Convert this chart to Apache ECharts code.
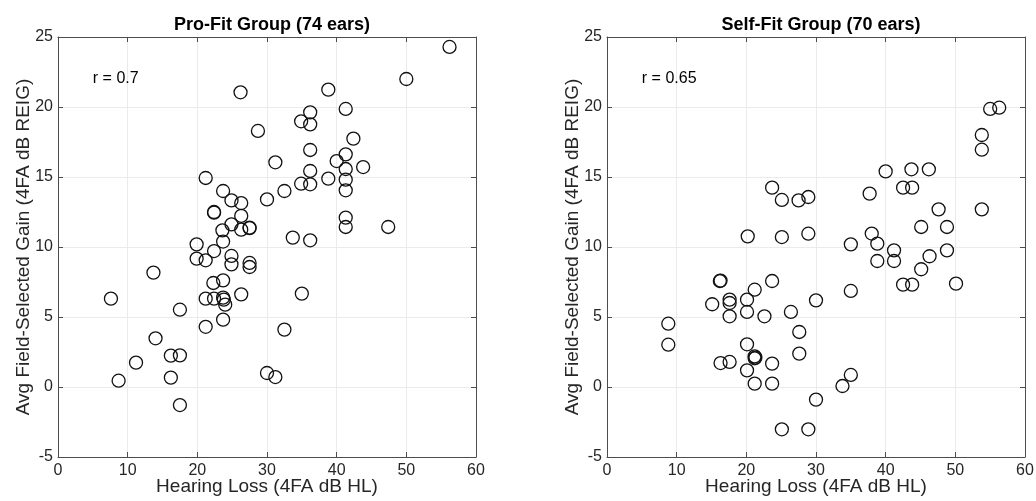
<!DOCTYPE html>
<html>
<head>
<meta charset="utf-8">
<script src="https://cdn.jsdelivr.net/npm/echarts@6/dist/echarts.min.js"></script>
<style>
html,body{margin:0;padding:0;background:#fff;}
#c{width:1036px;height:501px;}
</style>
</head>
<body>
<div id="c"></div>
<script>
// Pro-Fit group: hearing loss (x) vs avg field-selected gain (y)
const proFitX = [56.2, 50.0, 26.2, 38.8, 41.3, 36.2, 34.9, 36.2, 28.7, 42.4,
  36.2, 41.3, 40.0, 31.2, 43.8, 41.3, 36.2, 21.2, 38.8, 41.3,
  34.9, 36.2, 41.3, 32.5, 23.7, 30.0, 24.9, 26.3, 22.4, 22.4,
  26.3, 41.3, 47.4, 41.3, 24.9, 23.6, 27.5, 27.5, 26.3, 33.7,
  36.2, 19.9, 23.7, 22.4, 19.9, 21.2, 24.9, 24.9, 27.5, 27.5,
  13.7, 7.6, 23.7, 22.3, 26.3, 35.0, 21.2, 22.4, 23.7, 23.8,
  24.0, 17.5, 23.7, 21.2, 32.5, 14.0, 11.2, 16.2, 17.5, 8.7,
  16.2, 30.0, 31.2, 17.5];
const proFitY = [24.29, 22.0, 21.05, 21.24, 19.86, 19.62, 18.98, 18.76, 18.29, 17.74,
  16.93, 16.62, 16.14, 16.05, 15.71, 15.57, 15.43, 14.93, 14.88, 14.81,
  14.52, 14.48, 14.05, 14.0, 14.0, 13.4, 13.33, 13.14, 12.5, 12.45,
  12.22, 12.1, 11.43, 11.43, 11.62, 11.19, 11.39, 11.35, 11.24, 10.67,
  10.48, 10.19, 10.39, 9.71, 9.17, 9.05, 9.36, 8.76, 8.86, 8.57,
  8.17, 6.31, 7.62, 7.43, 6.62, 6.67, 6.31, 6.31, 6.38, 6.24,
  5.88, 5.52, 4.81, 4.3, 4.1, 3.48, 1.74, 2.24, 2.26, 0.45,
  0.67, 1.0, 0.71, -1.29];

// Self-Fit group
const selfFitX = [55.0, 56.3, 53.8, 53.8, 40.0, 43.7, 46.2, 23.7, 42.5, 43.8,
  37.7, 25.1, 27.5, 28.9, 47.6, 53.8, 45.1, 48.8, 20.2, 25.1,
  28.9, 38.0, 35.0, 38.8, 41.2, 48.8, 46.3, 38.8, 41.2, 45.1,
  42.5, 43.8, 50.1, 35.0, 16.2, 16.3, 23.7, 21.2, 15.1, 17.6,
  17.6, 17.6, 20.1, 20.1, 22.6, 26.4, 30.0, 27.6, 8.8, 8.8,
  20.1, 27.6, 21.2, 21.2, 21.3, 16.3, 17.6, 23.7, 20.1, 21.2,
  23.7, 33.8, 35.0, 30.0, 25.1, 28.9];
const selfFitY = [19.86, 19.95, 18.0, 16.95, 15.4, 15.55, 15.55, 14.24, 14.24, 14.24,
  13.81, 13.36, 13.33, 13.57, 12.69, 12.69, 11.43, 11.43, 10.76, 10.71,
  10.95, 10.96, 10.19, 10.24, 9.76, 9.76, 9.34, 9.0, 9.0, 8.41,
  7.31, 7.31, 7.38, 6.86, 7.57, 7.6, 7.57, 6.95, 5.91, 6.24,
  6.0, 5.05, 6.24, 5.36, 5.05, 5.36, 6.19, 3.93, 4.52, 3.02,
  3.05, 2.38, 2.19, 2.05, 2.1, 1.71, 1.79, 1.67, 1.19, 0.24,
  0.24, 0.07, 0.86, -0.9, -3.02, -3.02];

const titles = ['Pro-Fit Group (74 ears)', 'Self-Fit Group (70 ears)'];
const rLabels = ['r = 0.7', 'r = 0.65'];
const xTicks = [0, 10, 20, 30, 40, 50, 60];
const yTicks = [-5, 0, 5, 10, 15, 20, 25];
const xName = 'Hearing Loss (4FA dB HL)';
const yName = 'Avg Field-Selected Gain (4FA dB REIG)';

const FONT = '"Liberation Sans", Arial, Helvetica, sans-serif';
const TXT = '#262626';
const AX = '#4d4d4d';

const grids = [
  {left: 58, top: 37, width: 418, height: 420, outerBoundsMode: 'none', containLabel: false},
  {left: 607, top: 37, width: 418, height: 420, outerBoundsMode: 'none', containLabel: false}
];

function zip(xs, ys) { return xs.map((x, i) => [x, ys[i]]); }

const xAxes = [], yAxes = [], series = [];
[0, 1].forEach(g => {
  xAxes.push({
    gridIndex: g, type: 'value', min: xTicks[0], max: xTicks[xTicks.length - 1], interval: 10,
    position: 'bottom',
    name: xName, nameLocation: 'middle', nameGap: 20, nameMoveOverlap: false,
    nameTextStyle: {fontFamily: FONT, fontSize: 19, color: TXT},
    axisLine: {show: true, onZero: false, lineStyle: {color: AX, width: 1}},
    axisTick: {show: true, inside: true, length: 5, lineStyle: {color: AX}},
    axisLabel: {fontFamily: FONT, fontSize: 16, color: TXT, margin: 6},
    splitLine: {show: true, lineStyle: {color: '#ebebeb', width: 1}}
  });
  xAxes.push({
    gridIndex: g, type: 'value', min: xTicks[0], max: xTicks[xTicks.length - 1], interval: 10,
    position: 'top',
    axisLine: {show: true, onZero: false, lineStyle: {color: AX, width: 1}},
    axisTick: {show: true, inside: true, length: 5, lineStyle: {color: AX}},
    axisLabel: {show: false}, splitLine: {show: false}
  });
  yAxes.push({
    gridIndex: g, type: 'value', min: yTicks[0], max: yTicks[yTicks.length - 1], interval: 5,
    position: 'left',
    name: yName, nameLocation: 'middle', nameGap: 25, nameMoveOverlap: false,
    nameTextStyle: {fontFamily: FONT, fontSize: 19, color: TXT},
    axisLine: {show: true, onZero: false, lineStyle: {color: AX, width: 1}},
    axisTick: {show: true, inside: true, length: 5, lineStyle: {color: AX}},
    axisLabel: {fontFamily: FONT, fontSize: 16, color: TXT, margin: 5},
    splitLine: {show: true, lineStyle: {color: '#ebebeb', width: 1}}
  });
  yAxes.push({
    gridIndex: g, type: 'value', min: yTicks[0], max: yTicks[yTicks.length - 1], interval: 5,
    position: 'right',
    axisLine: {show: true, onZero: false, lineStyle: {color: AX, width: 1}},
    axisTick: {show: true, inside: true, length: 5, lineStyle: {color: AX}},
    axisLabel: {show: false}, splitLine: {show: false}
  });
});

const markStyle = {color: 'rgba(0,0,0,0)', borderColor: '#111', borderWidth: 1.3, opacity: 1};
series.push({
  type: 'scatter', xAxisIndex: 0, yAxisIndex: 0,
  data: zip(proFitX, proFitY), symbol: 'circle', symbolSize: 13,
  itemStyle: markStyle, silent: true
});
series.push({
  type: 'scatter', xAxisIndex: 2, yAxisIndex: 2,
  data: zip(selfFitX, selfFitY), symbol: 'circle', symbolSize: 13,
  itemStyle: markStyle, silent: true
});

const chart = echarts.init(document.getElementById('c'), null, {renderer: 'canvas'});
chart.setOption({
  animation: false,
  backgroundColor: '#fff',
  title: titles.map((t, i) => ({
    text: t, left: grids[i].left + grids[i].width / 2, top: 11, textAlign: 'center',
    textStyle: {fontFamily: FONT, fontSize: 18, fontWeight: 'bold', color: '#000'}
  })),
  grid: grids,
  xAxis: xAxes,
  yAxis: yAxes,
  series: series
});

const rPos = [[5, 22], [5, 22]];
const gfx = rLabels.map((t, i) => {
  const p = chart.convertToPixel({gridIndex: i}, rPos[i]);
  return {
    type: 'text', x: p[0], y: p[1],
    style: {text: t, font: '16px ' + FONT, fill: '#000', verticalAlign: 'middle'}
  };
});
chart.setOption({graphic: gfx});
</script>
</body>
</html>
